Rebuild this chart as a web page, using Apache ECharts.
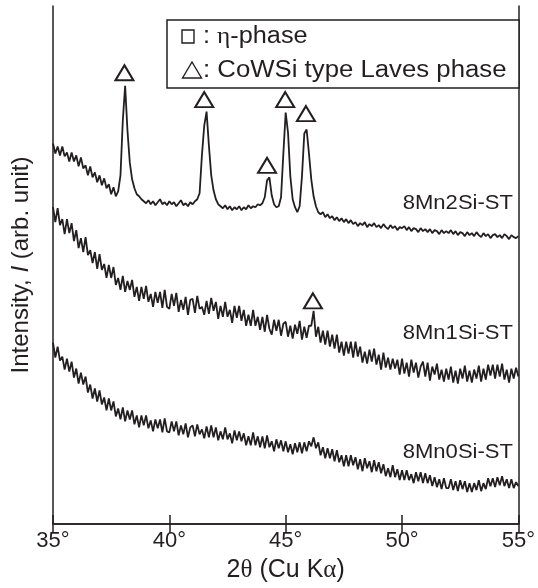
<!DOCTYPE html>
<html>
<head>
<meta charset="utf-8">
<script src="https://cdn.jsdelivr.net/npm/echarts@6.0.0/dist/echarts.min.js"></script>
<style>
  html, body { margin: 0; background: #fff; }
  #chart { width: 538px; height: 588px; }
</style>
</head>
<body>
<div id="chart"></div>
<script>
// scans are sampled every 0.1 deg from 35 deg to 55 deg
const startAngle = 35;
const stepAngle = 0.1;

const mn2Si = [
  382, 372, 379, 370, 379, 369, 373, 364, 373, 364,
  370, 359, 368, 357, 360, 350, 359, 348, 353, 343,
  350, 340, 347, 337, 341, 331, 338, 329, 334, 350,
  405, 440, 395, 363, 346, 337, 331, 329, 326, 324,
  322, 325, 321, 324, 320, 323, 326, 321, 323, 320,
  324, 321, 323, 319, 322, 325, 320, 322, 319, 323,
  321, 324, 326, 332, 370, 400, 414, 380, 350, 335,
  326, 321, 319, 317, 320, 316, 319, 315, 318, 316,
  319, 315, 318, 316, 320, 317, 319, 318, 321, 320,
  322, 328, 345, 348, 330, 321, 318, 319, 328, 372,
  413, 393, 349, 326, 318, 313, 319, 349, 392, 396,
  372, 346, 329, 319, 313, 311, 313, 308, 311, 307,
  309, 305, 308, 304, 307, 303, 306, 302, 305, 301,
  303, 299, 302, 300, 303, 298, 301, 299, 302, 298,
  300, 297, 301, 298, 296, 300, 297, 299, 295, 298,
  297, 299, 295, 298, 294, 297, 296, 293, 297, 294,
  296, 293, 296, 292, 295, 294, 291, 295, 292, 294,
  292, 295, 291, 294, 290, 293, 292, 289, 293, 290,
  292, 289, 293, 290, 288, 292, 289, 291, 287, 290,
  291, 288, 290, 287, 291, 289, 286, 290, 288, 287,
  289
];

const mn1Si = [
  318, 303, 317, 300, 306, 291, 306, 292, 302, 284,
  295, 277, 287, 273, 288, 270, 275, 262, 273, 256,
  271, 255, 261, 247, 260, 247, 258, 240, 247, 235,
  249, 233, 244, 235, 245, 228, 238, 224, 238, 226,
  239, 223, 231, 218, 233, 222, 233, 217, 235, 218,
  216, 231, 219, 232, 213, 225, 215, 228, 210, 225,
  226, 212, 229, 216, 218, 210, 224, 211, 227, 214,
  223, 206, 219, 208, 223, 208, 215, 202, 219, 207,
  219, 204, 215, 199, 210, 199, 215, 199, 208, 195,
  208, 193, 210, 196, 190, 205, 194, 205, 189, 201,
  203, 188, 199, 186, 200, 191, 204, 185, 198, 187,
  199, 199, 214, 188, 198, 182, 194, 180, 194, 178,
  190, 176, 190, 172, 183, 169, 183, 171, 183, 167,
  183, 168, 178, 162, 173, 161, 175, 163, 176, 160,
  170, 155, 172, 157, 167, 155, 166, 156, 165, 150,
  166, 151, 162, 148, 165, 152, 162, 147, 158, 163,
  148, 162, 144, 158, 150, 161, 145, 155, 143, 156,
  145, 158, 142, 154, 141, 156, 146, 159, 143, 154,
  142, 155, 146, 159, 143, 156, 145, 160, 149, 160,
  146, 160, 148, 161, 145, 155, 142, 156, 146, 157,
  148
];

const mn0Si = [
  182, 167, 178, 164, 168, 155, 166, 153, 163, 147,
  156, 141, 152, 140, 148, 132, 140, 126, 136, 123,
  134, 120, 127, 114, 126, 114, 123, 108, 116, 105,
  117, 103, 114, 105, 114, 100, 109, 97, 109, 99,
  109, 96, 104, 93, 105, 96, 105, 92, 106, 93,
  92, 103, 93, 103, 89, 99, 90, 101, 87, 97,
  99, 88, 100, 90, 95, 86, 98, 87, 99, 87,
  97, 84, 93, 85, 97, 85, 91, 81, 94, 84,
  93, 83, 91, 79, 88, 79, 92, 79, 88, 77,
  88, 76, 89, 77, 83, 73, 85, 76, 84, 73,
  83, 72, 80, 70, 81, 72, 82, 71, 82, 73,
  83, 78, 87, 76, 82, 69, 77, 66, 76, 66,
  75, 63, 74, 62, 69, 58, 69, 58, 69, 59,
  67, 55, 65, 53, 66, 56, 63, 52, 64, 53,
  62, 51, 60, 48, 56, 47, 59, 47, 55, 44,
  54, 44, 54, 44, 50, 41, 52, 43, 52, 41,
  51, 41, 49, 38, 47, 37, 45, 35, 46, 36,
  36, 45, 34, 43, 33, 44, 35, 43, 32, 41,
  32, 41, 34, 44, 33, 41, 35, 46, 38, 46,
  37, 47, 39, 48, 38, 45, 36, 45, 36, 42,
  38
];

const sampleNames = ['8Mn2Si-ST', '8Mn1Si-ST', '8Mn0Si-ST'];

// Laves phase peaks marked with open triangles [2theta, height]
const lavesPeaks = [[38.07, 453], [41.5, 426], [44.2, 360], [44.98, 426], [45.87, 412], [46.17, 224]];

const ink = '#231f20';
const font = '"Liberation Sans", Arial, Helvetica, sans-serif';
const serif = '"Liberation Serif", "Times New Roman", serif';

function toPairs(values) {
  return values.map(function (v, i) {
    return [+(startAngle + i * stepAngle).toFixed(1), v];
  });
}

var myChart = echarts.init(document.getElementById('chart'));

var lineSeries = [mn2Si, mn1Si, mn0Si].map(function (values, k) {
  return {
    name: sampleNames[k],
    type: 'line',
    data: toPairs(values),
    showSymbol: false,
    lineStyle: { color: ink, width: 1.8 },
    z: 2
  };
});

var axisLine = { show: true, lineStyle: { color: ink, width: 1.5 } };

var option = {
  backgroundColor: '#fff',
  animation: false,
  textStyle: { fontFamily: font, color: ink },
  grid: { left: 53, right: 16, top: 6, bottom: 62 },
  xAxis: [
    {
      type: 'value',
      min: 35,
      max: 55,
      interval: 5,
      axisLine: axisLine,
      axisTick: { inside: true, length: 9, lineStyle: { color: ink, width: 1.5 } },
      axisLabel: { formatter: '{value}°', fontSize: 22, color: ink, margin: 6, fontFamily: font },
      splitLine: { show: false },
      name: '2{g|θ} (Cu K{g|α})',
      nameLocation: 'middle',
      nameGap: 34,
      nameTextStyle: {
        fontSize: 25, color: ink, fontFamily: font,
        rich: { g: { fontSize: 25, color: ink, fontFamily: serif } }
      }
    },
    {
      type: 'value',
      position: 'top',
      min: 35,
      max: 55,
      interval: 5,
      axisLine: axisLine,
      axisTick: { inside: true, length: 9, lineStyle: { color: ink, width: 1.5 } },
      axisLabel: { show: false },
      splitLine: { show: false }
    }
  ],
  yAxis: [
    {
      type: 'value',
      min: 0,
      max: 520,
      axisLine: axisLine,
      axisTick: { show: false },
      axisLabel: { show: false },
      splitLine: { show: false },
      name: 'Intensity, {i|I} (arb. unit)',
      nameLocation: 'middle',
      nameGap: 20,
      nameTextStyle: {
        fontSize: 24, color: ink, fontFamily: font,
        rich: { i: { fontSize: 24, color: ink, fontStyle: 'italic', fontFamily: font } }
      }
    },
    {
      type: 'value',
      position: 'right',
      min: 0,
      max: 520,
      axisLine: axisLine,
      axisTick: { show: false },
      axisLabel: { show: false },
      splitLine: { show: false }
    }
  ],
  series: lineSeries.concat([
    {
      type: 'scatter',
      data: lavesPeaks,
      symbol: 'emptyTriangle',
      symbolSize: [18, 15],
      itemStyle: { color: ink, borderColor: ink, borderWidth: 1.5, opacity: 1 },
      z: 5
    }
  ]),
  graphic: [
    // legend box
    {
      type: 'rect', z: 100,
      shape: { x: 167, y: 20, width: 352, height: 68 },
      style: { fill: '#fff', stroke: ink, lineWidth: 1.5 }
    },
    {
      type: 'rect', z: 101,
      shape: { x: 182, y: 30, width: 12, height: 13 },
      style: { fill: 'none', stroke: ink, lineWidth: 1.4 }
    },
    {
      type: 'text', z: 101, x: 203, y: 37, scaleX: 1.1,
      style: {
        text: ': {g|η}-phase', fill: ink, font: '23px ' + font, verticalAlign: 'middle',
        rich: { g: { fontSize: 23, fill: ink, fontFamily: serif } }
      }
    },
    {
      type: 'polygon', z: 101,
      shape: { points: [[192, 62], [182.5, 78], [201.5, 78]] },
      style: { fill: 'none', stroke: ink, lineWidth: 1.4 }
    },
    {
      type: 'text', z: 101, x: 203, y: 71, scaleX: 1.12,
      style: { text: ': CoWSi type Laves phase', fill: ink, font: '23px ' + font, verticalAlign: 'middle' }
    },
    // sample labels
    {
      type: 'text', z: 101, x: 513, y: 203, scaleX: 1.05,
      style: { text: sampleNames[0], fill: ink, font: '21px ' + font, align: 'right', verticalAlign: 'middle' }
    },
    {
      type: 'text', z: 101, x: 513, y: 333, scaleX: 1.05,
      style: { text: sampleNames[1], fill: ink, font: '21px ' + font, align: 'right', verticalAlign: 'middle' }
    },
    {
      type: 'text', z: 101, x: 513, y: 452, scaleX: 1.05,
      style: { text: sampleNames[2], fill: ink, font: '21px ' + font, align: 'right', verticalAlign: 'middle' }
    }
  ]
};

myChart.setOption(option);

window.addEventListener('resize', function () {
  myChart.resize();
});
</script>
</body>
</html>
